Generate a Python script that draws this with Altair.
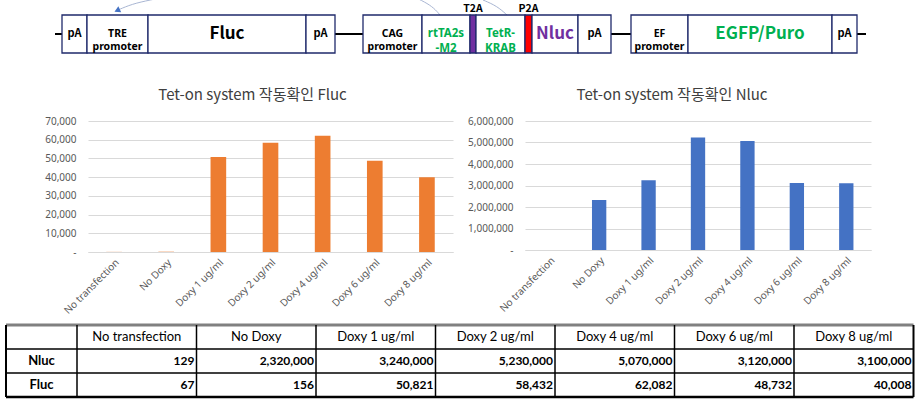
import altair as alt
import pandas as pd

# ---------------- data ----------------
conditions = ["No transfection", "No Doxy", "Doxy 1 ug/ml", "Doxy 2 ug/ml",
              "Doxy 4 ug/ml", "Doxy 6 ug/ml", "Doxy 8 ug/ml"]
nluc_values = [129, 2320000, 3240000, 5230000, 5070000, 3120000, 3100000]
fluc_values = [67, 156, 50821, 58432, 62082, 48732, 40008]
row_names = ["Nluc", "Fluc"]

fluc_ticks = [0, 10000, 20000, 30000, 40000, 50000, 60000, 70000]
nluc_ticks = [0, 1000000, 2000000, 3000000, 4000000, 5000000, 6000000]

chart_titles = ["Tet-on system 작동확인 Fluc", "Tet-on system 작동확인 Nluc"]

# construct map (element, start, end along the drawn construct)
segment_labels = ["pA", "TRE\npromoter", "Fluc", "pA", "CAG\npromoter", "rtTA2s\n-M2",
                  "T2A", "TetR-\nKRAB", "P2A", "Nluc", "pA", "EF\npromoter",
                  "EGFP/Puro", "pA"]
segment_start = [62, 87, 148, 306, 363, 422, 470, 476, 525, 532, 578, 631, 688, 832]
segment_end = [87, 148, 306, 335, 422, 470, 476, 525, 532, 578, 611, 688, 832, 857]
backbone_start = [55, 335, 611, 857]
backbone_end = [62, 363, 631, 866]
# regulatory arcs (rtTA -> TRE), sampled points
arc_id = [1, 1, 1, 1, 2, 2, 2, 2, 3, 3, 3]
arc_x = [118, 132, 150, 170, 412, 425, 434, 440, 483, 497, 507]
arc_y = [10, 4, 0, -4, -4, 2, 8, 15, 0, 6, 15]

# ---------------- layout constants ----------------
W, H = 921, 411
PLOT_TOP = 121
FLUC_W, FLUC_H, FLUC_LEFT = 365, 131, 88
NLUC_W, NLUC_H, NLUC_GAP = 346, 129, 72
BOX_TOP, BOX_BOTTOM, BACKBONE_Y = 15, 53, 34
TABLE_TOP = PLOT_TOP  # the nested bar-chart row takes no height in a flush layout
COL_EDGES = [6, 77] + [77 + 119.5 * (i + 1) for i in range(7)]
ROW_EDGES = [325, 349, 373, 397]

LABEL_FONT = "Noto Sans"
TITLE_FONT = "Noto Sans CJK KR"
DIAG_FONT = "Noto Sans CJK KR"
SMALL_FONT = "Noto Sans"
TABLE_FONT = "Lato"

# ---------------- construct diagram ----------------
seg = pd.DataFrame({"label": segment_labels, "start": segment_start, "end": segment_end})
seg["mid"] = (seg["start"] + seg["end"]) / 2
bb = pd.DataFrame({"start": backbone_start, "end": backbone_end})
arcs = pd.DataFrame({"arc": arc_id, "x": arc_x, "y": arc_y})
arcs["order"] = range(len(arcs))

xs = alt.Scale(domain=[0, W], nice=False, zero=False)
ys = alt.Scale(domain=[0, PLOT_TOP], nice=False, zero=False, reverse=True)


def ydat(v):
    return alt.YDatum(v, type="quantitative", scale=ys, axis=None)


backbone = alt.Chart(bb).mark_rule(color="black", strokeWidth=2).encode(
    x=alt.X("start:Q", scale=xs, axis=None), x2="end:Q", y=ydat(BACKBONE_Y))

boxes = alt.Chart(seg).transform_calculate(
    fill="datum.label == 'T2A' ? '#7030A0' : (datum.label == 'P2A' ? '#FF0000' : 'white')"
).mark_rect(stroke="#1F2A6B", strokeWidth=1.3).encode(
    x=alt.X("start:Q", scale=xs, axis=None), x2="end:Q",
    y=ydat(BOX_TOP), y2=alt.Y2Datum(BOX_BOTTOM),
    fill=alt.Fill("fill:N", scale=None))


def seg_text(labels, size, color, line_height=None, font=DIAG_FONT):
    kw = dict(font=font, fontWeight="bold", fontSize=size, color=color,
              lineBreak="\n", align="center", baseline="middle")
    if line_height:
        kw["lineHeight"] = line_height
    return alt.Chart(seg).transform_filter(
        alt.FieldOneOfPredicate(field="label", oneOf=labels)
    ).mark_text(**kw).encode(
        x=alt.X("mid:Q", scale=xs, axis=None), y=ydat(BACKBONE_Y), text="label:N")


t_pa = seg_text(["pA"], 11, "black")
t_prom = seg_text(["TRE\npromoter", "CAG\npromoter", "EF\npromoter"], 10.5, "black", 13,
                  SMALL_FONT)
t_green = seg_text(["rtTA2s\n-M2", "TetR-\nKRAB"], 11.5, "#00B050", 14.5, SMALL_FONT)
t_fluc = seg_text(["Fluc"], 17, "black")
t_nluc = seg_text(["Nluc"], 17, "#7030A0")
t_egfp = seg_text(["EGFP/Puro"], 17, "#00B050")

linker_text = alt.Chart(seg).transform_filter(
    alt.FieldOneOfPredicate(field="label", oneOf=["T2A", "P2A"])
).mark_text(font=DIAG_FONT, fontWeight="bold", fontSize=10.5, color="black",
            baseline="middle").encode(
    x=alt.X("mid:Q", scale=xs, axis=None), y=ydat(8.5), text="label:N")

arc_lines = alt.Chart(arcs).mark_line(color="#A9B6D3", strokeWidth=1,
                                      interpolate="basis", clip=True).encode(
    x=alt.X("x:Q", scale=xs, axis=None), y=alt.Y("y:Q", scale=ys, axis=None),
    detail="arc:N", order="order:Q")

arrow = alt.Chart(arcs).transform_filter("datum.order == 0").mark_point(
    shape="triangle", filled=True, color="#4472C4", size=45, angle=245, opacity=1
).encode(x=alt.X("x:Q", scale=xs, axis=None), y=alt.Y("y:Q", scale=ys, axis=None))

diagram = alt.layer(arc_lines, arrow, backbone, boxes, t_pa, t_prom, t_green, t_fluc,
                    t_nluc, t_egfp, linker_text).properties(width=W, height=PLOT_TOP)

# ---------------- bar charts ----------------
bars_df = pd.DataFrame({"condition": conditions, "Nluc": nluc_values, "Fluc": fluc_values})
label_expr = "datum.value == 0 ? '-' : format(datum.value, ',')"


def bar_chart(field, color, ticks, title, width, height, pad, dx):
    return alt.Chart(bars_df).mark_bar(color=color).encode(
        x=alt.X("condition:N", sort=conditions,
                scale=alt.Scale(paddingInner=pad, paddingOuter=pad / 2),
                axis=alt.Axis(title=None, labelAngle=-45, ticks=False,
                              domainColor="#D9D9D9", labelPadding=5,
                              labelFont=LABEL_FONT, labelFontSize=10,
                              labelColor="#595959")),
        y=alt.Y(f"{field}:Q", scale=alt.Scale(domain=[ticks[0], ticks[-1]], nice=False),
                axis=alt.Axis(title=None, values=ticks, labelExpr=label_expr,
                              grid=True, gridColor="#D9D9D9", domain=False,
                              ticks=False, labelPadding=12, labelFont=LABEL_FONT,
                              labelFontSize=10, labelColor="#595959")),
    ).properties(
        width=width, height=height,
        title=alt.TitleParams(title, font=TITLE_FONT, fontSize=15, fontWeight="normal",
                              color="#404040", offset=13, dx=dx, anchor="middle"))


def spacer(width):
    return alt.Chart(pd.DataFrame({"v": [0]})).mark_point(opacity=0).encode(
        x=alt.X("v:Q", axis=None), y=alt.Y("v:Q", axis=None)
    ).properties(width=width, height=FLUC_H)


fluc_chart = bar_chart("Fluc", "#ED7D31", fluc_ticks, chart_titles[0], FLUC_W, FLUC_H, 0.7, -18)
nluc_chart = bar_chart("Nluc", "#4472C4", nluc_ticks, chart_titles[1], NLUC_W, NLUC_H, 0.71, -26)
charts = alt.hconcat(spacer(FLUC_LEFT), fluc_chart, spacer(NLUC_GAP), nluc_chart,
                     spacing=0, bounds="flush")

# ---------------- data table ----------------
txs = alt.Scale(domain=[0, W], nice=False, zero=False)
tys = alt.Scale(domain=[TABLE_TOP, H], nice=False, zero=False, reverse=True)

header_df = pd.DataFrame({
    "text": conditions,
    "x": [(COL_EDGES[i + 1] + COL_EDGES[i + 2]) / 2 for i in range(len(conditions))],
    "y": [(ROW_EDGES[0] + ROW_EDGES[1]) / 2] * len(conditions)})
rowname_df = pd.DataFrame({
    "text": row_names,
    "x": [(COL_EDGES[0] + COL_EDGES[1]) / 2] * 2,
    "y": [(ROW_EDGES[1] + ROW_EDGES[2]) / 2, (ROW_EDGES[2] + ROW_EDGES[3]) / 2]})
cells = []
for r, vals in enumerate([nluc_values, fluc_values]):
    for i, v in enumerate(vals):
        cells.append({"text": f"{v:,}", "x": COL_EDGES[i + 2] - 2,
                      "y": (ROW_EDGES[r + 1] + ROW_EDGES[r + 2]) / 2})
cell_df = pd.DataFrame(cells)

hlines = pd.DataFrame({"y": ROW_EDGES, "x": [COL_EDGES[0]] * 4, "x2": [COL_EDGES[-1]] * 4,
                       "w": [3, 1.5, 1.5, 2.5], "c": ["#808080", "black", "black", "black"]})
vlines = pd.DataFrame({"x": COL_EDGES, "y": [ROW_EDGES[0]] * len(COL_EDGES),
                       "y2": [ROW_EDGES[-1]] * len(COL_EDGES),
                       "w": [2] + [1.5] * (len(COL_EDGES) - 2) + [2]})

TX = lambda f: alt.X(f, type="quantitative", scale=txs, axis=None)
TY = lambda f: alt.Y(f, type="quantitative", scale=tys, axis=None)

h_rules = alt.Chart(hlines).mark_rule().encode(
    x=TX("x"), x2="x2:Q", y=TY("y"),
    strokeWidth=alt.StrokeWidth("w:Q", scale=None), color=alt.Color("c:N", scale=None))
v_rules = alt.Chart(vlines).mark_rule(color="black").encode(
    x=TX("x"), y=TY("y"), y2="y2:Q", strokeWidth=alt.StrokeWidth("w:Q", scale=None))
header_text = alt.Chart(header_df).mark_text(
    font=TABLE_FONT, fontSize=13, color="black", align="center", baseline="middle"
).encode(x=TX("x"), y=TY("y"), text="text:N")
rowname_text = alt.Chart(rowname_df).mark_text(
    font=TABLE_FONT, fontSize=13, fontWeight="bold", color="black", align="center",
    baseline="middle").encode(x=TX("x"), y=TY("y"), text="text:N")
cell_text = alt.Chart(cell_df).mark_text(
    font=TABLE_FONT, fontSize=12, fontWeight="bold", color="black", align="right",
    baseline="middle").encode(x=TX("x"), y=TY("y"), text="text:N")

table = alt.layer(h_rules, v_rules, header_text, rowname_text, cell_text).properties(
    width=W, height=H - TABLE_TOP)

chart = alt.vconcat(diagram, charts, table, spacing=0, bounds="flush").properties(
    padding=0, background="white"
).configure_view(stroke=None)

chart.save("out.html", embed_options={"renderer": "svg", "actions": False})
